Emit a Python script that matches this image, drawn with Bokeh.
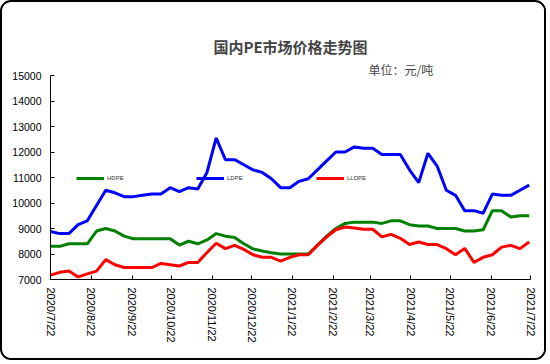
import math
import pandas as pd
from bokeh.plotting import figure
from bokeh.models import (Range1d, FixedTicker, Legend, LegendItem, Title)
from bokeh.embed import file_html
from bokeh.resources import INLINE

# ---- data ----
title_text = "国内PE市场价格走势图"
unit_text = "单位：元/吨"
series_names = ["HDPE", "LDPE", "LLDPE"]
x_tick_labels = ["2020/7/22", "2020/8/22", "2020/9/22", "2020/10/22", "2020/11/22",
                 "2020/12/22", "2021/1/22", "2021/2/22", "2021/3/22", "2021/4/22",
                 "2021/5/22", "2021/6/22", "2021/7/22"]
y_ticks = [7000, 8000, 9000, 10000, 11000, 12000, 13000, 14000, 15000]

hdpe = [8300, 8300, 8400, 8400, 8400, 8900, 9000, 8900, 8700, 8600,
        8600, 8600, 8600, 8600, 8350, 8500, 8400, 8550, 8800, 8700,
        8650, 8400, 8200, 8120, 8050, 8000, 8000, 8000, 8000, 8350,
        8700, 9000, 9200, 9250, 9250, 9250, 9200, 9300, 9300, 9150,
        9100, 9100, 9000, 9000, 9000, 8900, 8900, 8950, 9700, 9700,
        9450, 9500, 9500]
ldpe = [8880, 8800, 8800, 9150, 9300, 9900, 10500, 10400, 10250, 10250,
        10300, 10350, 10350, 10600, 10450, 10600, 10550, 11200, 12550, 11700,
        11700, 11500, 11300, 11200, 10950, 10600, 10600, 10850, 10950, 11300,
        11650, 12000, 12000, 12200, 12150, 12150, 11900, 11900, 11900, 11300,
        10800, 11950, 11450, 10500, 10300, 9700, 9700, 9600, 10350, 10300,
        10300, 10500, 10700]
lldpe = [7170, 7280, 7330, 7100, 7220, 7330, 7780, 7580, 7470, 7470,
         7470, 7470, 7630, 7580, 7530, 7670, 7670, 8060, 8420, 8210,
         8340, 8180, 7970, 7870, 7870, 7720, 7870, 7970, 7970, 8340,
         8670, 8950, 9060, 9020, 8970, 8970, 8670, 8770, 8615, 8370,
         8470, 8370, 8370, 8210, 7970, 8220, 7670, 7870, 7970, 8270,
         8340, 8210, 8470]
dates = pd.date_range("2020-07-22", periods=len(hdpe), freq="7D")
colors = ["#008000", "#0000FF", "#FF0000"]

def to_ms(d):
    return pd.Timestamp(d).value / 1e6

tick_ms = [to_ms(pd.to_datetime(l, format="%Y/%m/%d")) for l in x_tick_labels]
x_ms = [to_ms(d) for d in dates]

p = figure(width=546, height=360, output_backend="svg", toolbar_location=None,
           x_range=Range1d(tick_ms[0], tick_ms[-1]), y_range=Range1d(7000, 15000),
           min_border_left=48, min_border_right=18, min_border_top=73, min_border_bottom=83,
           background_fill_color="white", border_fill_color="white",
           styles={"border": "2px solid black", "border-radius": "11px",
                   "overflow": "hidden"})
p.outline_line_color = None
p.grid.visible = False

for ax in (p.xaxis[0], p.yaxis[0]):
    ax.axis_line_color = "black"
    ax.major_tick_line_color = "black"
    ax.major_tick_in = 4
    ax.major_tick_out = 0
    ax.minor_tick_line_color = None
    ax.major_label_text_font = "Liberation Sans"
    ax.major_label_text_color = "black"

p.yaxis.ticker = FixedTicker(ticks=y_ticks)
p.yaxis.major_label_text_font_size = "10.5px"
p.yaxis.major_label_standoff = 9

p.xaxis.ticker = FixedTicker(ticks=tick_ms)
p.xaxis.major_label_overrides = {t: l for t, l in zip(tick_ms, x_tick_labels)}
p.xaxis.major_label_orientation = -math.pi / 2
p.xaxis.major_label_text_font_size = "11px"
p.xaxis.major_label_standoff = 8

renderers = []
for vals, c in zip([hdpe, ldpe, lldpe], colors):
    r = p.line(x_ms, vals, line_color=c, line_width=3)
    renderers.append(r)

legend_x = [26, 146, 266]
for name, r, lx in zip(series_names, renderers, legend_x):
    lg = Legend(items=[LegendItem(label=name, renderers=[r])], location=(lx, 97),
                orientation="horizontal", glyph_width=28, glyph_height=8,
                label_standoff=3, label_text_font_size="6px", label_height=8,
                label_text_color="#333333", label_text_font="Liberation Sans",
                padding=0, margin=0, border_line_color=None, background_fill_alpha=0)
    p.add_layout(lg)

p.title.text = title_text
p.title.text_font = "Noto Sans CJK SC"
p.title.text_font_size = "15px"
p.title.text_font_style = "bold"
p.title.align = "center"
p.title.standoff = 10

p.add_layout(Title(text=unit_text, text_font="Noto Sans CJK SC", text_font_size="12px",
                   text_font_style="normal", align="left", offset=318, standoff=-5), "above")

open("out.html", "w").write(file_html(p, INLINE))
